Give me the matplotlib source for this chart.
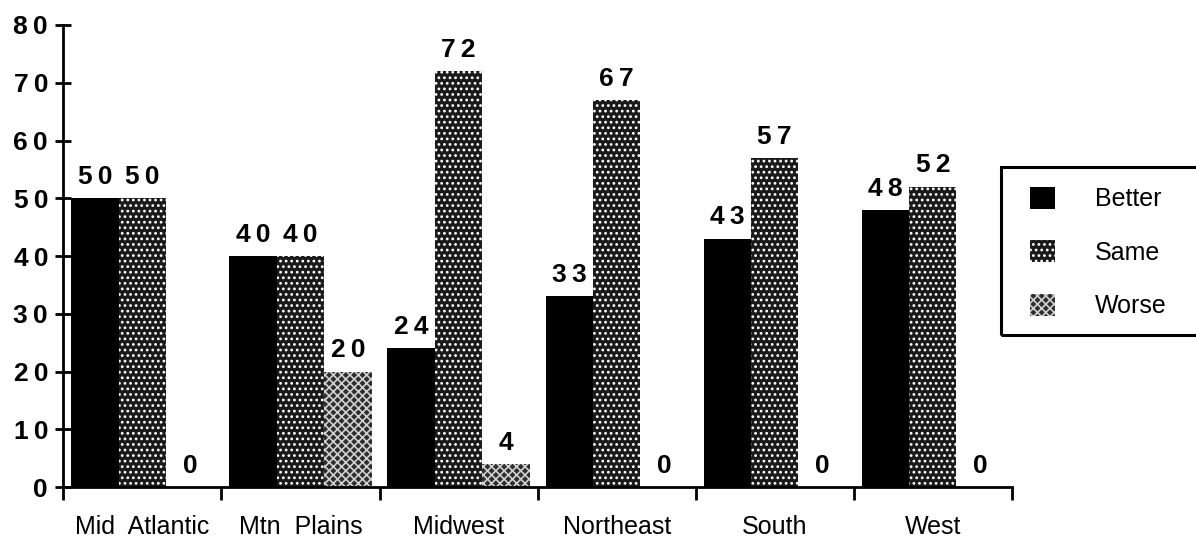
import matplotlib
matplotlib.use('Agg')
import matplotlib.pyplot as plt
import matplotlib.ticker as ticker
from matplotlib.patches import Rectangle, Patch
import numpy as np

regions = ['Mid  Atlantic', 'Mtn  Plains', 'Midwest', 'Northeast', 'South', 'West']
better = [50, 40, 24, 33, 43, 48]
same = [50, 40, 72, 67, 57, 52]
worse = [0, 20, 4, 0, 0, 0]
series_names = ['Better', 'Same', 'Worse']
y_ticks = [0, 10, 20, 30, 40, 50, 60, 70, 80]

plt.rcParams['font.family'] = ['Liberation Sans', 'DejaVu Sans']
plt.rcParams['hatch.linewidth'] = 1.2


def spaced(n):
    # digits drawn a bit apart, like the old typesetting
    return '\u2009'.join(str(n))


fig = plt.figure(figsize=(11.96, 5.43), dpi=100)
ax = fig.add_axes([0.053, 0.103, 0.793, 0.851])

x = np.arange(len(regions))
w = 0.3
b1 = ax.bar(x - w, better, w, color='black', linewidth=0)
b2 = ax.bar(x, same, w, facecolor='#1a1a1a', edgecolor='white', hatch='...', linewidth=0)
b3 = ax.bar(x + w, worse, w, facecolor='#2e2e2e', edgecolor='#d0d0d0', hatch='xxxx', linewidth=0)

for bars, vals in [(b1, better), (b2, same), (b3, worse)]:
    for bar, v in zip(bars, vals):
        ax.text(bar.get_x() + bar.get_width() / 2, v + 1.6, spaced(v),
                ha='center', va='bottom', fontsize=19, fontweight='bold')

ax.set_xlim(-0.5, len(regions) - 0.5)
ax.set_ylim(0, 80)

ax.set_yticks(y_ticks)
ax.yaxis.set_major_formatter(ticker.FuncFormatter(lambda v, p: spaced(int(v))))
for lab in ax.get_yticklabels():
    lab.set_fontsize(19)
    lab.set_fontweight('bold')
ax.tick_params(axis='y', direction='inout', length=12, width=2, pad=5)

ax.set_xticks(np.arange(-0.5, len(regions), 1.0))
ax.set_xticklabels([])
ax.set_xticks(x, minor=True)
ax.set_xticklabels(regions, minor=True, fontsize=18)
ax.tick_params(axis='x', which='major', direction='out', length=9, width=2)
ax.tick_params(axis='x', which='minor', length=0, pad=20)

for s in ['top', 'right']:
    ax.spines[s].set_visible(False)
for s in ['left', 'bottom']:
    ax.spines[s].set_linewidth(2)

# legend box, cut off on the right like the scan
fig.patches.append(Rectangle((0.837, 0.383), 0.2, 0.309, transform=fig.transFigure,
                             fill=False, edgecolor='black', linewidth=2.2))
handles = [Patch(facecolor='black', linewidth=0),
           Patch(facecolor='#1a1a1a', edgecolor='white', hatch='...', linewidth=0),
           Patch(facecolor='#2e2e2e', edgecolor='#d0d0d0', hatch='xxxx', linewidth=0)]
leg = fig.legend(handles, series_names, loc='center left', bbox_to_anchor=(0.842, 0.535),
                 frameon=False, fontsize=18, handlelength=1.0, handleheight=1.0,
                 labelspacing=1.15, handletextpad=1.6)

fig.savefig('out.png', dpi=100)
